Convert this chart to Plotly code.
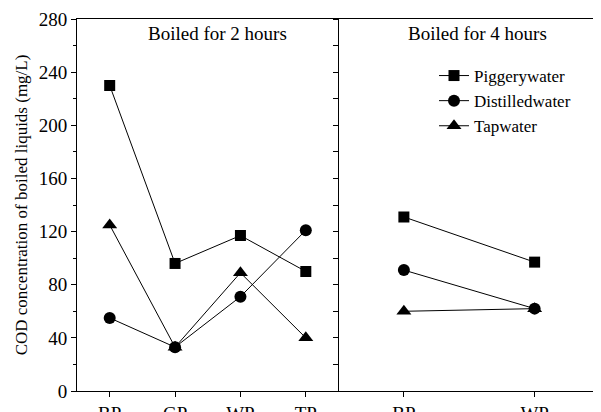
import plotly.graph_objects as go
from plotly.subplots import make_subplots

cats_2h = ["BP", "GP", "WP", "TP"]
cats_4h = ["BP", "WP"]

piggery_2h = [230, 96, 117, 90]
distilled_2h = [55, 33, 71, 121]
tap_2h = [125, 33, 89, 40]

piggery_4h = [131, 97]
distilled_4h = [91, 62]
tap_4h = [60, 62]

y_ticks = [0, 40, 80, 120, 160, 200, 240, 280]

FONT = "Liberation Serif"

fig = make_subplots(rows=1, cols=2, horizontal_spacing=0, shared_yaxes=False)

series = [
    ("Piggerywater", piggery_2h, piggery_4h, "square", 11),
    ("Distilledwater", distilled_2h, distilled_4h, "circle", 12),
    ("Tapwater", tap_2h, tap_4h, "triangle-up", 13),
]
for name, v2, v4, sym, sz in series:
    fig.add_trace(go.Scatter(x=cats_2h, y=v2, mode="lines+markers", name=name,
                             line=dict(color="black", width=1),
                             marker=dict(symbol=sym, size=sz, color="black"),
                             legendgroup=name, showlegend=True), row=1, col=1)
    fig.add_trace(go.Scatter(x=cats_4h, y=v4, mode="lines+markers", name=name,
                             line=dict(color="black", width=1),
                             marker=dict(symbol=sym, size=sz, color="black"),
                             legendgroup=name, showlegend=False), row=1, col=2)

# invisible trace for right-edge axis
fig.add_trace(go.Scatter(x=[None], y=[None], xaxis="x2", yaxis="y3", showlegend=False))

axis_common = dict(showgrid=False, zeroline=False, linecolor="black", linewidth=1,
                   automargin=False)

fig.update_xaxes(**axis_common, showline=True, mirror=True, ticks="outside", ticklen=5,
                 tickcolor="black", tickfont=dict(family=FONT, size=19, color="black"))
fig.update_xaxes(range=[-0.5, 3.5], row=1, col=1)
fig.update_xaxes(range=[-0.5, 1.5], row=1, col=2)

fig.update_layout(
    yaxis=dict(**axis_common, showline=True, range=[0, 280], tickvals=y_ticks,
               ticks="outside", ticklen=5, tickcolor="black",
               minor=dict(dtick=20, ticks="outside", ticklen=3, tickcolor="black"),
               tickfont=dict(family=FONT, size=19, color="black"),
               title=dict(text="COD concentration of boiled liquids (mg/L)",
                          font=dict(family=FONT, size=17, color="black"), standoff=6)),
    yaxis2=dict(**axis_common, showline=True, range=[0, 280], dtick=20, tick0=0,
                ticks="outside", ticklen=5, tickcolor="black", showticklabels=False),
    yaxis3=dict(**axis_common, showline=True, range=[0, 280], dtick=20, tick0=0,
                overlaying="y2", side="right", anchor="x2",
                ticks="inside", ticklen=4, tickcolor="black", showticklabels=False),
)

# page has an 8px body margin; plot area maps to screen x 77..600, y 19..391
fig.add_annotation(text="Boiled for 2 hours", xref="paper", yref="paper",
                   x=(217 - 77) / 523, y=(391 - 34) / 372, showarrow=False,
                   xanchor="center", yanchor="middle",
                   font=dict(family=FONT, size=19, color="black"))
fig.add_annotation(text="Boiled for 4 hours", xref="paper", yref="paper",
                   x=(477 - 77) / 523, y=(391 - 34) / 372, showarrow=False,
                   xanchor="center", yanchor="middle",
                   font=dict(family=FONT, size=19, color="black"))

fig.update_layout(
    width=593, height=404,
    margin=dict(l=69, r=1, t=11, b=21),
    plot_bgcolor="white", paper_bgcolor="white",
    legend=dict(x=(434 - 77) / 523, y=(391 - 58) / 372, xanchor="left", yanchor="top",
                font=dict(family=FONT, size=17, color="black"),
                bgcolor="rgba(0,0,0,0)", tracegroupgap=0),
    showlegend=True,
)

fig.write_html("out.html")
